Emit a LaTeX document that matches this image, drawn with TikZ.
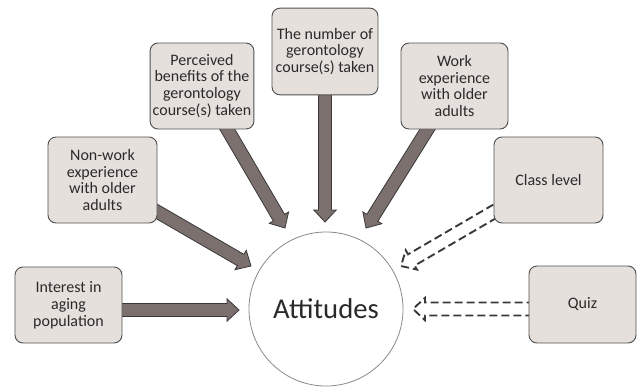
\documentclass[tikz,border=0pt]{standalone}
\usepackage{fontspec}
\setmainfont{Carlito}
\usetikzlibrary{calc,backgrounds}

\definecolor{boxfill}{HTML}{E6E0DD}
\definecolor{boxline}{HTML}{505050}
\definecolor{arrowfill}{HTML}{7C706E}
\definecolor{arrowline}{HTML}{383838}
\definecolor{textcol}{HTML}{2A2A2A}
\definecolor{ringline}{HTML}{8A8A8A}

% shaft half width, head half width, head length
\def\bsw{4.9pt}
\def\bhw{8.4pt}
\def\bhl{9pt}

% block arrow from #2 to #3; #1 = s (solid) or h (hollow, dashed)
\newcommand\blockarrow[3]{%
  \path let \p1=(#2), \p2=(#3) in \pgfextra{%
    \pgfmathsetmacro\baang{atan2(\y2-\y1,\x2-\x1)}%
    \pgfmathsetmacro\balen{veclen(\x2-\x1,\y2-\y1)}%
    \xdef\baang{\baang}\xdef\balen{\balen}%
    \xdef\bax{\x1}\xdef\bay{\y1}};
  \begin{scope}[shift={(\bax,\bay)},rotate=\baang]
    \ifx#1s%
      \path[solidarrow] (0pt,-\bsw) -- ({\balen pt-\bhl},-\bsw) -- ({\balen pt-\bhl},-\bhw)
        -- (\balen pt,0pt) -- ({\balen pt-\bhl},\bhw) -- ({\balen pt-\bhl},\bsw) -- (0pt,\bsw) -- cycle;
    \else
      \path[hollowarrow] (0pt,-\bsw) -- ({\balen pt-\bhl},-\bsw) -- ({\balen pt-\bhl},-\bhw)
        -- (\balen pt,0pt) -- ({\balen pt-\bhl},\bhw) -- ({\balen pt-\bhl},\bsw) -- (0pt,\bsw);
    \fi
  \end{scope}}

\tikzset{
  factor/.style={draw=boxline, fill=boxfill, rounded corners=6pt, line width=0.7pt,
    align=center, text=textcol, inner sep=2pt,
    font=\fontsize{12}{12.7}\selectfont},
  outcome/.style={circle, draw=ringline, fill=white, line width=0.6pt,
    minimum size=115.5pt, inner sep=0pt, text=textcol,
    font=\fontsize{21.5}{24}\selectfont},
  solidarrow/.style={draw=arrowline, fill=arrowfill, line width=0.6pt, line join=miter},
  hollowarrow/.style={draw=arrowline, line width=1.4pt, dash pattern=on 6pt off 3pt},
}

\begin{document}
\begin{tikzpicture}[x=0.75pt,y=-0.75pt]
  \useasboundingbox (0,0) rectangle (638,387);

  % outcome
  \node[outcome] (att) at (326,309) {Attitudes};

  % factors
  \node[factor, minimum width=80.25pt, minimum height=57pt] (interest) at (68.5,305) {Interest in\\aging\\population};
  \node[factor, minimum width=81.75pt, minimum height=64.5pt] (nonwork) at (102.5,180) {Non-work\\experience\\with older\\adults};
  \node[factor, minimum width=75pt, minimum height=64.5pt] (perceived) at (202,86) {Perceived\\benefits of the\\gerontology\\course(s) taken};
  \node[factor, minimum width=79.5pt, minimum height=65pt] (number) at (325,51.5) {The number of\\gerontology\\course(s) taken};
  \node[factor, minimum width=80.25pt, minimum height=64.5pt] (work) at (454.5,86) {Work\\experience\\with older\\adults};
  \node[factor, minimum width=81.75pt, minimum height=64.5pt] (class) at (548.5,180) {Class level};
  \node[factor, minimum width=80.25pt, minimum height=57.75pt] (quiz) at (582.5,304.5) {Quiz};

  % arrow tips near the circle
  \coordinate (tipInterest)  at (239,310);
  \coordinate (tipNonwork)   at (251,266);
  \coordinate (tipPerceived) at (285,228);
  \coordinate (tipNumber)    at (325,222);
  \coordinate (tipWork)      at (366,228);
  \coordinate (tipClass)     at (401,266);
  \coordinate (tipQuiz)      at (413,309);

  \begin{pgfonlayer}{background}
    \blockarrow{s}{interest.center |- tipInterest}{tipInterest}
    \blockarrow{s}{nonwork.center}{tipNonwork}
    \blockarrow{s}{perceived.center}{tipPerceived}
    \blockarrow{s}{number.center}{tipNumber}
    \blockarrow{s}{work.center}{tipWork}
    \blockarrow{h}{class.center}{tipClass}
    \blockarrow{h}{quiz.center |- tipQuiz}{tipQuiz}
  \end{pgfonlayer}
\end{tikzpicture}
\end{document}
